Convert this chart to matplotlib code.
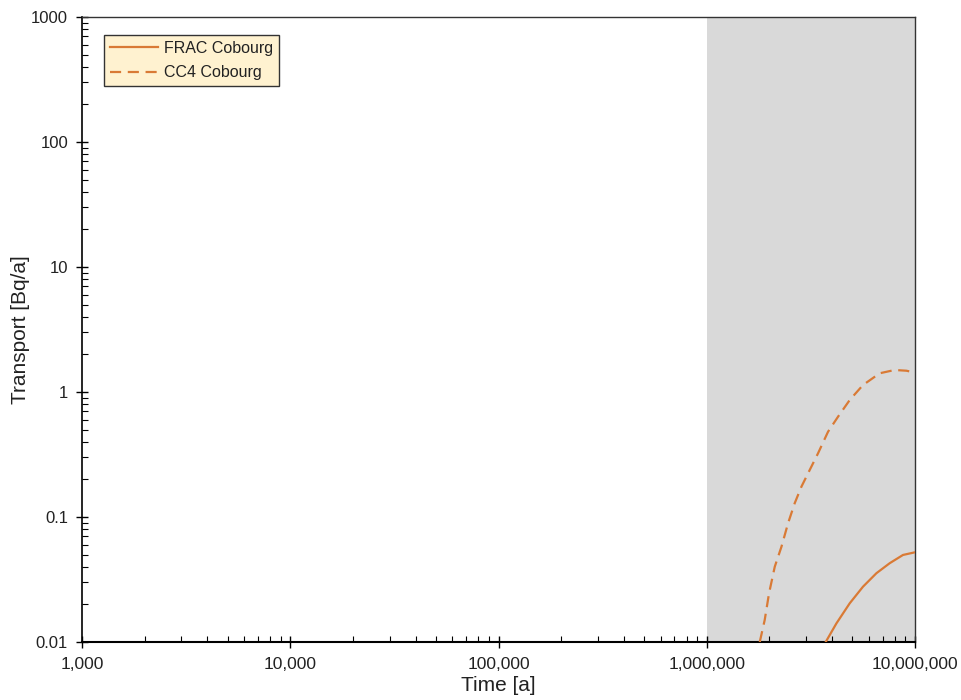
import matplotlib
matplotlib.use("Agg")
import matplotlib.pyplot as plt
from matplotlib.ticker import FuncFormatter, LogLocator, NullFormatter

plt.rcParams['font.family'] = ['Liberation Sans', 'DejaVu Sans']

# Time [a] and transport [Bq/a] for each series
time_cc4 = [1.797e6, 1.898e6, 1.991e6, 2.121e6, 2.284e6, 2.457e6, 2.645e6, 2.849e6, 3.123e6,
            3.422e6, 3.823e6, 4.269e6, 4.859e6, 5.627e6, 6.769e6, 7.99e6, 9.094e6, 1.0e7]
cc4_cobourg = [0.010, 0.0150, 0.0245, 0.040, 0.0578, 0.0891, 0.129, 0.175, 0.238,
               0.323, 0.481, 0.634, 0.863, 1.137, 1.412, 1.50, 1.48, 1.43]

time_frac = [3.726e6, 4.195e6, 4.859e6, 5.627e6, 6.526e6, 7.561e6, 8.757e6, 1.0e7]
frac_cobourg = [0.010, 0.0141, 0.0204, 0.0277, 0.0355, 0.0427, 0.0497, 0.0522]

shade_range = [1e6, 1e7]
x_limits = [1e3, 1e7]
y_limits = [0.01, 1000]

line_color = '#D97A35'
text_color = '#222222'

fig = plt.figure(figsize=(9.61, 7.00), dpi=100)
ax = fig.add_axes([82 / 961, 1 - 642 / 700, 833 / 961, 625 / 700])

ax.axvspan(shade_range[0], shade_range[1], color='#D9D9D9', zorder=0, lw=0)
ax.plot(time_frac, frac_cobourg, color=line_color, lw=1.6, label='FRAC Cobourg',
        zorder=3, solid_joinstyle='round')
ax.plot(time_cc4, cc4_cobourg, color=line_color, lw=1.6, ls=(0, (5, 3)), label='CC4 Cobourg',
        zorder=3, dash_joinstyle='round')

ax.set_xscale('log')
ax.set_yscale('log')
ax.set_xlim(*x_limits)
ax.set_ylim(*y_limits)

ax.xaxis.set_major_formatter(FuncFormatter(lambda v, p: f'{v:,.0f}'))
ax.yaxis.set_major_formatter(FuncFormatter(lambda v, p: f'{v:g}'))
ax.xaxis.set_minor_locator(LogLocator(base=10, subs=range(2, 10)))
ax.yaxis.set_minor_locator(LogLocator(base=10, subs=range(2, 10)))
ax.xaxis.set_minor_formatter(NullFormatter())
ax.yaxis.set_minor_formatter(NullFormatter())

ax.tick_params(which='major', direction='inout', length=8, width=1, colors='black',
               labelcolor=text_color)
ax.tick_params(which='minor', direction='in', length=4, width=0.8)
ax.tick_params(axis='y', labelsize=12, pad=6)
ax.tick_params(axis='x', labelsize=12.5, pad=7)

for s in ax.spines.values():
    s.set_color('#333333')
    s.set_linewidth(1.0)
ax.spines['bottom'].set_color('black')
ax.spines['left'].set_color('black')
ax.spines['bottom'].set_linewidth(1.5)
ax.spines['left'].set_linewidth(1.2)

ax.set_xlabel('Time [a]', fontsize=15, color=text_color, labelpad=3)
ax.set_ylabel('Transport [Bq/a]', fontsize=15, color=text_color, labelpad=1)

leg = ax.legend(loc='upper left', bbox_to_anchor=(22 / 833, (642 - 35) / 625), borderaxespad=0,
                fontsize=11.5, fancybox=False, framealpha=1, handlelength=3, handletextpad=0.4,
                borderpad=0.35, labelspacing=0.6)
leg.get_frame().set_facecolor('#FFF2D0')
leg.get_frame().set_edgecolor('#333333')
leg.get_frame().set_linewidth(1.0)
for t in leg.get_texts():
    t.set_color(text_color)

fig.savefig('out.png', dpi=100, facecolor='white')
